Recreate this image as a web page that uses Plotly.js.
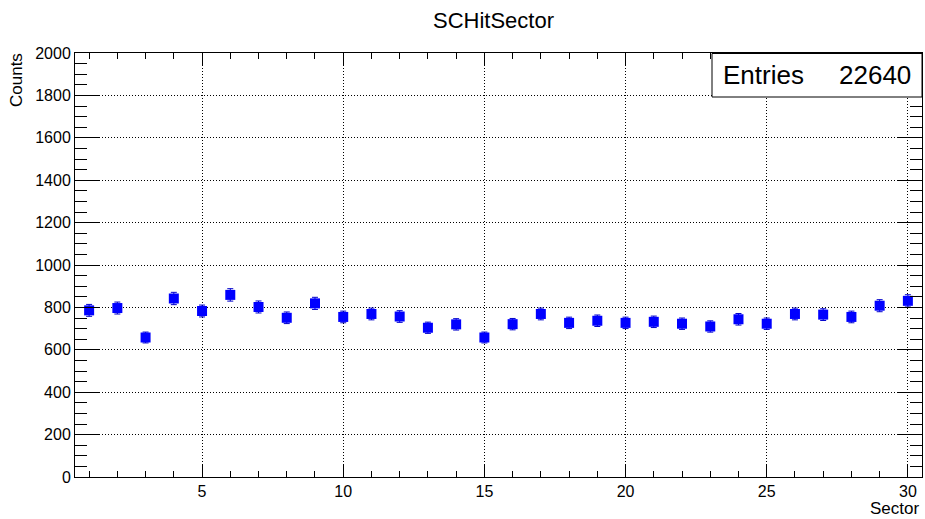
<!DOCTYPE html>
<html>
<head>
<meta charset="utf-8">
<script src="https://cdn.plot.ly/plotly-3.0.1.min.js"></script>
<style>html,body{margin:0;padding:0;background:#fff;}#chart{width:925px;height:519px;}</style>
</head>
<body>
<div id="chart"></div>
<script>
var sectors = [1,2,3,4,5,6,7,8,9,10,11,12,13,14,15,16,17,18,19,20,21,22,23,24,25,26,27,28,29,30];
var counts = [786,797,658,842,783,859,802,751,819,755,769,757,704,720,658,721,769,727,737,727,732,723,710,744,723,769,766,755,808,831];
var errors = counts.map(function(v){return Math.sqrt(v);});
var entries = 22640;

var L = 75, R = 3, T = 53, B = 42, W = 925, H = 519;
var pw = W - L - R, ph = H - T - B;
function px(x){return (x - L)/pw;}
function py(y){return (H - B - y)/ph;}

var ff = 'Liberation Sans, Arial, sans-serif';

var trace = {
  x: sectors, y: counts, type: 'scatter', mode: 'markers',
  marker: {symbol: 'square', size: 10, color: '#0000ff'},
  error_y: {type: 'data', array: errors, visible: true, color: '#0000cc', thickness: 1, width: 3},
  hoverinfo: 'x+y'
};

var layout = {
  width: W, height: H,
  margin: {l: L, r: R, t: T, b: B},
  paper_bgcolor: '#fff', plot_bgcolor: '#fff',
  showlegend: false,
  font: {family: ff, size: 16, color: '#000'},
  title: {text: 'SCHitSector', xref: 'container', x: 493.5/925, xanchor: 'center', yref: 'container', y: 1 - 20/519, yanchor: 'middle', font: {family: ff, size: 22, color: '#000'}},
  xaxis: {
    range: [0.5, 30.5], tickmode: 'array', tickvals: [5,10,15,20,25,30],
    ticks: 'inside', ticklen: 12, tickcolor: '#000', tickwidth: 1,
    showline: true, linecolor: '#000', linewidth: 1, mirror: 'ticks',
    showgrid: true, gridcolor: '#000', griddash: '1px,2px', gridwidth: 1,
    zeroline: false,
    minor: {dtick: 1, tick0: 0, ticks: 'inside', ticklen: 6, tickcolor: '#000', showgrid: false},
    tickfont: {family: ff, size: 16, color: '#000'}
  },
  yaxis: {
    range: [0, 2000], tickmode: 'linear', tick0: 0, dtick: 200,
    ticks: 'inside', ticklen: 25, tickcolor: '#000', tickwidth: 1,
    showline: true, linecolor: '#000', linewidth: 1, mirror: 'ticks',
    showgrid: true, gridcolor: '#000', griddash: '1px,2px', gridwidth: 1,
    zeroline: false,
    minor: {dtick: 50, tick0: 0, ticks: 'inside', ticklen: 12, tickcolor: '#000', showgrid: false},
    tickfont: {family: ff, size: 16, color: '#000'}
  },
  shapes: [
    {type: 'rect', xref: 'paper', yref: 'paper', x0: px(712), x1: px(922), y0: py(97), y1: py(53.5),
     line: {color: '#000', width: 1}, fillcolor: '#fff', layer: 'above'}
  ],
  annotations: [
    {xref: 'paper', yref: 'paper', x: px(721), y: py(75), xanchor: 'left', yanchor: 'middle', text: 'Entries', showarrow: false, font: {family: ff, size: 26, color: '#000'}},
    {xref: 'paper', yref: 'paper', x: px(913), y: py(75), xanchor: 'right', yanchor: 'middle', text: String(entries), showarrow: false, font: {family: ff, size: 26, color: '#000'}},
    {xref: 'paper', yref: 'paper', x: px(921), y: py(508), xanchor: 'right', yanchor: 'middle', text: 'Sector', showarrow: false, font: {family: ff, size: 17, color: '#000'}},
    {xref: 'paper', yref: 'paper', x: px(17), y: py(51), xanchor: 'center', yanchor: 'top', textangle: -90, text: 'Counts', showarrow: false, font: {family: ff, size: 17, color: '#000'}}
  ]
};

Plotly.newPlot('chart', [trace], layout, {displayModeBar: false, staticPlot: true});
</script>
</body>
</html>
